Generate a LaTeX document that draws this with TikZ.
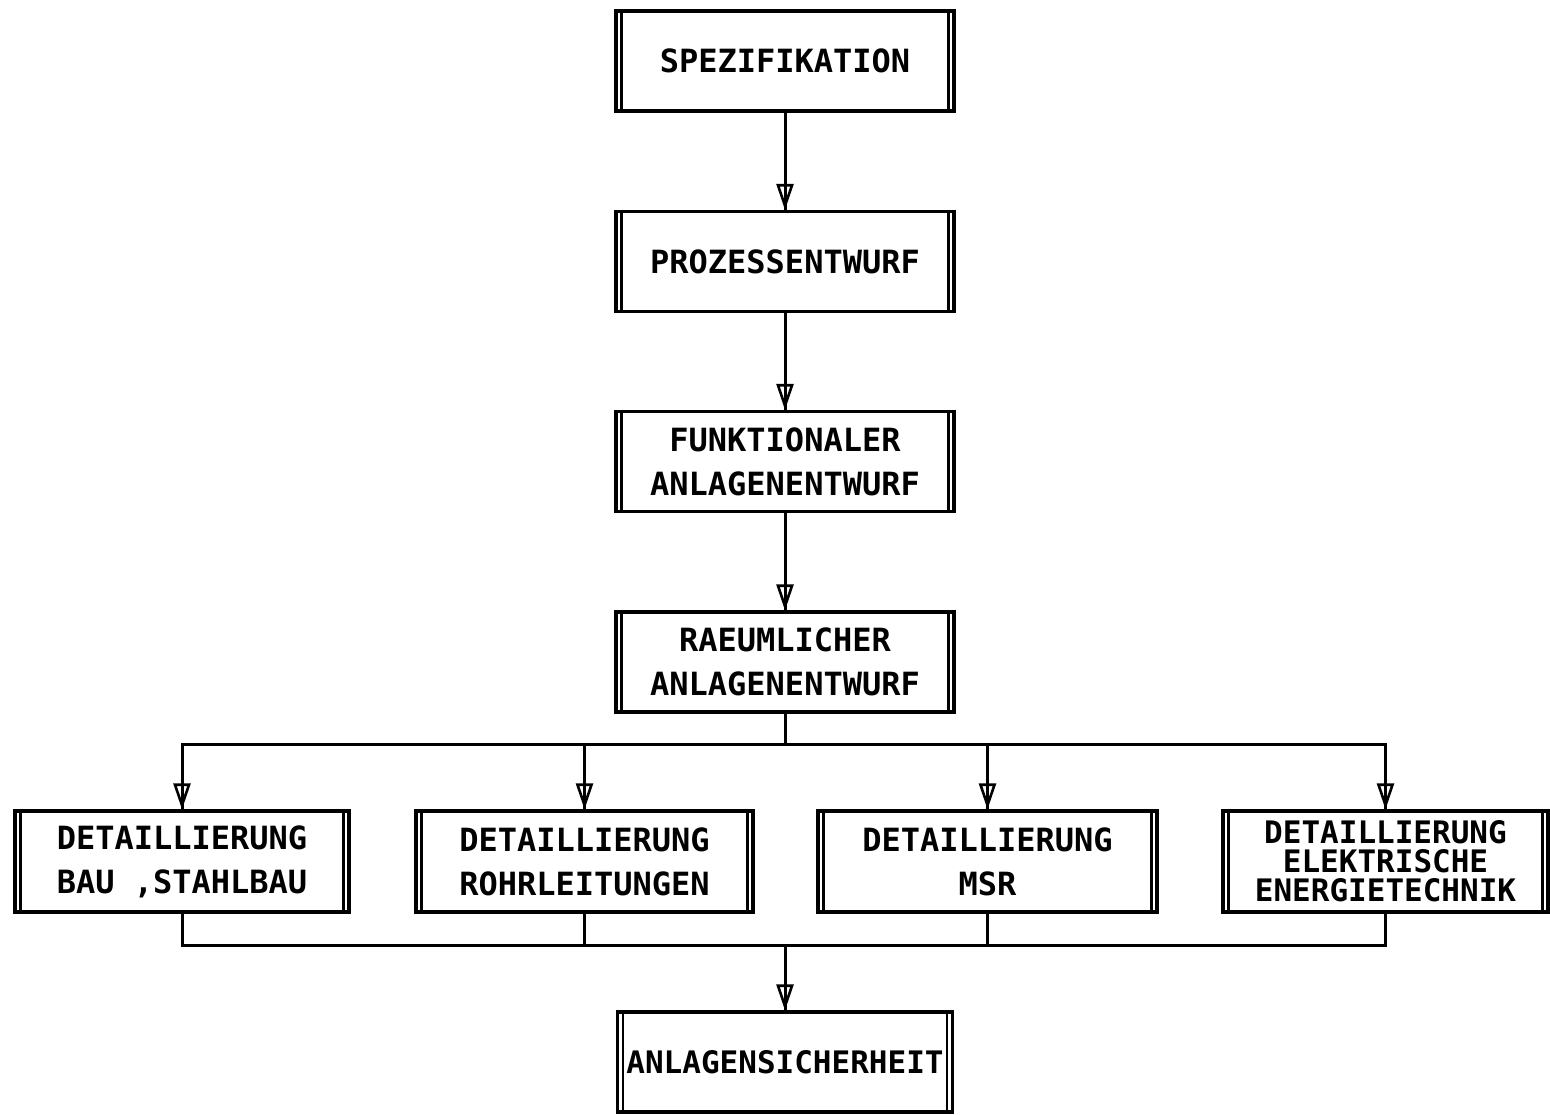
\documentclass[tikz,border=0pt]{standalone}
\usepackage{fontspec}
\setmonofont{DejaVu Sans Mono}
\usetikzlibrary{arrows.meta}
\begin{document}
\begin{tikzpicture}[x=1pt,y=-1pt,
  box/.style={draw, line width=3.2pt, rectangle, inner sep=0pt,
    minimum width=338pt, minimum height=100pt, align=center,
    font=\ttfamily\bfseries\fontsize{32}{44}\selectfont},
  wire/.style={line width=3pt},
  arr/.style={wire, -{Triangle[open,length=26pt,width=17pt,line width=2.6pt]},
    postaction={draw, wire, -}}
]
\useasboundingbox[fill=white] (0,0) rectangle (1550,1114);

% main process chain
\node[box] (spec) at (785,61)   {SPEZIFIKATION};
\node[box] (proz) at (785,261.5) {PROZESSENTWURF};
\node[box] (funk) at (785,461.5) {FUNKTIONALER\\ANLAGENENTWURF};
\node[box] (raum) at (785,662)  {RAEUMLICHER\\ANLAGENENTWURF};

% detailing disciplines
\node[box, minimum width=334pt, minimum height=101pt] (bau) at (182,861.5) {DETAILLIERUNG\\BAU ,STAHLBAU};
\node[box, minimum width=337pt, minimum height=101pt] (rohr) at (584.5,861.5) {DETAILLIERUNG\\ROHRLEITUNGEN};
\node[box, minimum width=339pt, minimum height=101pt] (msr) at (987.5,861.5) {DETAILLIERUNG\\MSR};
\node[box, minimum width=325pt, minimum height=101pt,
      font=\ttfamily\bfseries\fontsize{31}{29}\selectfont] (elek) at (1385.5,861.5)
      {DETAILLIERUNG\\ELEKTRISCHE\\ENERGIETECHNIK};

% safety
\node[box, minimum width=335pt, font=\ttfamily\bfseries\fontsize{31}{40}\selectfont] (sich) at (785,1062) {ANLAGENSICHERHEIT};

% inner vertical bars of each process box
\foreach \n in {spec,proz,funk,raum,bau,rohr,msr,elek,sich}{
  \draw[line width=2.6pt] ([xshift=7pt]\n.north west) -- ([xshift=7pt]\n.south west);
  \draw[line width=2.6pt] ([xshift=-7pt]\n.north east) -- ([xshift=-7pt]\n.south east);
}

% junction points of the fan-out and fan-in
\coordinate (split) at (785,744);
\coordinate (merge) at (785,945);

\draw[arr] (spec) -- (proz);
\draw[arr] (proz) -- (funk);
\draw[arr] (funk) -- (raum);
\draw[wire] (raum) -- (split);
\foreach \n in {bau,rohr,msr,elek}{
  \draw[arr] (split) -| (\n.north);
  \draw[wire] (\n.south) |- (merge);
}
\draw[arr] (merge) -- (sich);
\end{tikzpicture}
\end{document}
